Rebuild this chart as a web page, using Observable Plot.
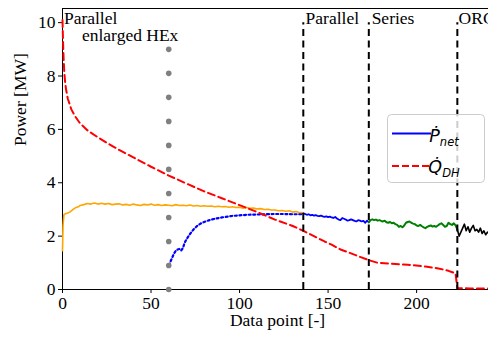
<!DOCTYPE html>
<html><head><meta charset="utf-8">
<script src="https://cdn.jsdelivr.net/npm/d3@7"></script>
<script src="https://cdn.jsdelivr.net/npm/@observablehq/plot@0.6"></script>
<style>
html,body{margin:0;padding:0;background:#fff;}
#chart{position:relative;width:488px;height:343px;overflow:hidden;}
</style></head><body><div id="chart"></div>
<script>
// ---- data ----
const xTicks = [0, 50, 100, 150, 200];
const yTicks = [0, 2, 4, 6, 8, 10];
const xMax = 240.6, yMax = 10.53;

// orange: Parallel enlarged HEx net power
const orangeX = [0,0.3,0.8,2,3,4,5,6,7,8,9,10,12,14,16,18,20,22,24,26,28,30,32,34,36,38,40,42,44,46,48,50,52,54,56,58,60,62,64,66,68,70,72,74,76,78,80,82,84,86,88,90,92,94,96,98,100,102,104,106,108,110,112,114,116,118,120,122,124,126,128,130,132,134,136];
const orangeY = [1.45,2.4,2.8,2.85,2.87,2.9,2.95,3.0,3.05,3.08,3.1,3.15,3.18,3.22,3.2,3.24,3.2,3.23,3.2,3.22,3.18,3.2,3.21,3.17,3.19,3.16,3.2,3.17,3.15,3.19,3.17,3.2,3.16,3.18,3.15,3.17,3.16,3.14,3.18,3.15,3.16,3.14,3.17,3.13,3.15,3.12,3.14,3.12,3.13,3.1,3.12,3.1,3.11,3.08,3.1,3.07,3.08,3.05,3.07,3.04,3.05,3.02,3.03,3.0,3.01,2.98,2.98,2.95,2.96,2.93,2.95,2.9,2.92,2.88,2.87];

// blue dotted (before 136)
const blueDotX = [60,61,62,63,64,65,66,67,68,69,70,72,74,76,78,80,83,86,90,95,100,105,110,115,120,125,130,136];
const blueDotY = [0.9,1.05,1.2,1.35,1.45,1.5,1.52,1.46,1.55,1.75,1.88,2.08,2.25,2.38,2.47,2.53,2.6,2.65,2.7,2.75,2.78,2.8,2.81,2.82,2.83,2.83,2.82,2.82];

// blue solid (Parallel)
const blueX = [136,137,138,139,140,141,142,143,144,145,146,147,148,149,150,151,152,153,154,155,156,157,158,159,160,161,162,163,164,165,166,167,168,169,170,171,172,173];
const blueY = [2.85,2.83,2.8,2.82,2.78,2.8,2.77,2.79,2.76,2.75,2.77,2.74,2.72,2.74,2.71,2.73,2.7,2.68,2.72,2.66,2.62,2.6,2.68,2.65,2.62,2.58,2.6,2.63,2.6,2.57,2.55,2.6,2.58,2.55,2.57,2.5,2.58,2.52];

// green (Series)
const greenX = [173,174,175,176,177,178,179,180,181,182,183,184,185,186,187,188,189,190,191,192,193,194,195,196,197,198,199,200,201,202,203,204,205,206,207,208,209,210,211,212,213,214,215,216,217,218,219,220,221,222,223];
const greenY = [2.52,2.6,2.63,2.6,2.62,2.58,2.6,2.57,2.55,2.58,2.52,2.5,2.53,2.48,2.5,2.45,2.42,2.35,2.38,2.33,2.4,2.5,2.53,2.55,2.5,2.47,2.45,2.4,2.38,2.42,2.37,2.33,2.3,2.35,2.38,2.4,2.36,2.38,2.35,2.4,2.45,2.48,2.42,2.35,2.38,2.5,2.45,2.42,2.48,2.4,2.25];

// black (ORC)
const blackX = [223,224,225,226,227,228,229,230,231,232,233,234,235,236,237,238,239,240,241];
const blackY = [2.25,2.0,2.15,2.3,2.45,2.2,2.35,2.15,2.3,2.4,2.2,2.25,2.15,2.3,2.1,2.2,2.05,2.15,2.1];

// red dashed: district heating
const redX = [0,0.3,0.6,1,1.5,2,3,5,7,10,14,20,26,32,40,50,60,70,80,90,100,110,120,130,136,142,148,152,157,162,167,173,178,185,195,205,213,218,222,223,230,241];
const redY = [10.1,9.3,8.7,8.15,7.75,7.5,7.15,6.75,6.5,6.22,5.97,5.7,5.46,5.23,4.95,4.6,4.27,3.97,3.68,3.42,3.16,2.9,2.62,2.38,2.2,2.0,1.8,1.68,1.5,1.38,1.25,1.1,1.0,0.97,0.93,0.86,0.78,0.7,0.6,0.05,0.04,0.04];

// grey dotted vertical marker
const greyX = 60;
const greyDotsY = [0,0.9,1.8,2.7,3.6,4.5,5.4,6.3,7.2,8.1,9.0];

// configuration switches
const switchX = [136, 173, 223];
const switchTop = 10;

// annotations
const annoText = ["Parallel", "enlarged HEx", "Parallel", "Series", "ORC"];
const annoX = [0.8, 11, 137.3, 174.6, 223.7];
const annoY = [9.96, 9.33, 9.96, 9.96, 9.96];

const serif = "'Liberation Serif', 'Times New Roman', serif";

const plot = Plot.plot({
  width: 488, height: 343,
  marginLeft: 62, marginRight: 0, marginTop: 8, marginBottom: 54,
  style: {fontFamily: serif, fontSize: "17px", color: "#000", background: "#fff"},
  x: {domain: [0, xMax]},
  y: {domain: [0, yMax]},
  marks: [
    Plot.ruleY([0], {stroke: "black", strokeWidth: 1}),
    Plot.ruleY([yMax], {stroke: "black", strokeWidth: 1}),
    Plot.ruleX([0], {stroke: "black", strokeWidth: 1}),
    Plot.axisX({ticks: xTicks, tickSize: 4, tickPadding: 3, fontSize: 17.5, label: null, stroke: "black", fill: "black"}),
    Plot.axisY({ticks: yTicks, tickSize: 4, tickPadding: 3, fontSize: 17.5, label: null, stroke: "black", fill: "black"}),
    Plot.line(orangeY, {x: orangeX, y: orangeY, stroke: "orange", strokeWidth: 1.6}),
    Plot.line(blueDotY, {x: blueDotX, y: blueDotY, stroke: "blue", strokeWidth: 2.2, strokeDasharray: "2,2.6"}),
    Plot.line(blueY, {x: blueX, y: blueY, stroke: "blue", strokeWidth: 1.8}),
    Plot.line(greenY, {x: greenX, y: greenY, stroke: "green", strokeWidth: 2}),
    Plot.line(blackY, {x: blackX, y: blackY, stroke: "black", strokeWidth: 1.6}),
    Plot.line(redY, {x: redX, y: redY, stroke: "red", strokeWidth: 2, strokeDasharray: "7,4"}),
    Plot.dot(greyDotsY, {x: greyX, y: d => d, r: 2.8, fill: "gray", stroke: null}),
    Plot.ruleX(switchX, {y1: 0, y2: switchTop, stroke: "black", strokeWidth: 2, strokeDasharray: "7,4.5"}),
    Plot.text(annoText, {x: annoX, y: annoY, text: d => d, textAnchor: "start", lineAnchor: "bottom", fontSize: 17.5, fill: "black"}),
    Plot.text(["Data point [-]"], {frameAnchor: "bottom", dy: 36, dx: 2, fontSize: 17.5, fill: "black"}),
    Plot.text(["Power [MW]"], {frameAnchor: "left", dx: -42, dy: -3, rotate: -90, fontSize: 17.5, fill: "black"})
  ]
});
document.getElementById("chart").appendChild(plot);

// legend (drawn on top inside the SVG)
const svg = d3.select(plot);
const lg = svg.append("g").attr("class", "legend");
lg.append("rect").attr("x", 387.5).attr("y", 114.5).attr("width", 97).attr("height", 68).attr("rx", 4)
  .attr("fill", "white").attr("fill-opacity", 0.8).attr("stroke", "#cccccc").attr("stroke-width", 1);
lg.append("line").attr("x1", 392).attr("x2", 431).attr("y1", 133.5).attr("y2", 133.5)
  .attr("stroke", "blue").attr("stroke-width", 1.8);
lg.append("line").attr("x1", 392).attr("x2", 431).attr("y1", 166).attr("y2", 166)
  .attr("stroke", "red").attr("stroke-width", 1.8).attr("stroke-dasharray", "7,3");
const sans = "'DejaVu Sans', sans-serif";
const t1 = lg.append("text").attr("x", 444).attr("y", 142).attr("font-family", sans).attr("font-style", "italic").attr("fill", "black");
t1.append("tspan").attr("font-size", 17.5).text("\u1E56");
t1.append("tspan").attr("font-size", 11.5).attr("dy", 4).text("net");
const t2 = lg.append("text").attr("x", 444).attr("y", 173).attr("font-family", sans).attr("font-style", "italic").attr("fill", "black");
t2.append("tspan").attr("font-size", 17.5).text("Q\u0307");
t2.append("tspan").attr("font-size", 11.5).attr("dy", 4).text("DH");
</script></body></html>
